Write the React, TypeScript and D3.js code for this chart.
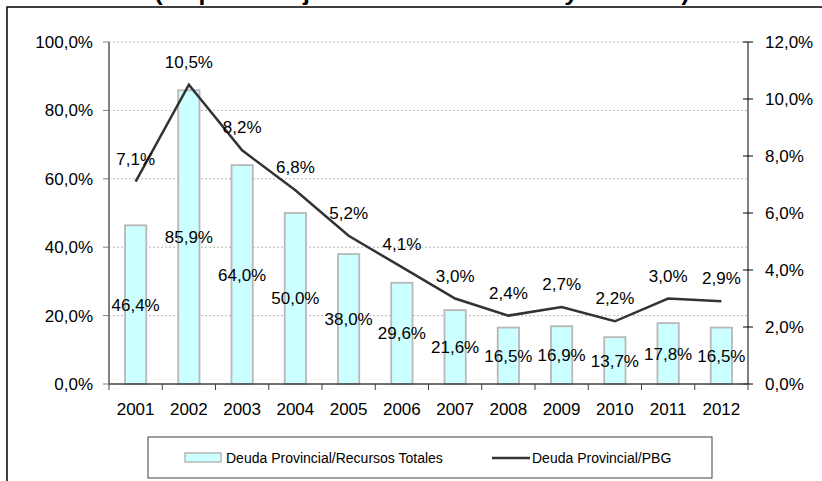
import React from "react";
import { scaleBand, scaleLinear, line } from "d3";

// data
const years = ["2001", "2002", "2003", "2004", "2005", "2006", "2007", "2008", "2009", "2010", "2011", "2012"];
const deudaRecursos = [46.4, 85.9, 64.0, 50.0, 38.0, 29.6, 21.6, 16.5, 16.9, 13.7, 17.8, 16.5];
const deudaPBG = [7.1, 10.5, 8.2, 6.8, 5.2, 4.1, 3.0, 2.4, 2.7, 2.2, 3.0, 2.9];
const leftTicks = [0, 20, 40, 60, 80, 100];
const rightTicks = [0, 2, 4, 6, 8, 10, 12];

const W = 822;
const H = 481;
const plot = { left: 109, right: 748, top: 42, bottom: 384 };
const font = "'Liberation Sans', Arial, sans-serif";

const fmt = (v: number) => v.toFixed(1).replace(".", ",") + "%";

export default function App() {
  const x = scaleBand<string>().domain(years).range([plot.left, plot.right]).padding(0);
  const bw = x.bandwidth();
  const yL = scaleLinear().domain([0, 100]).range([plot.bottom, plot.top]);
  const yR = scaleLinear().domain([0, 12]).range([plot.bottom, plot.top]);
  const cx = (y: string) => (x(y) ?? 0) + bw / 2;

  const pathD = line<number>()
    .x((_, i) => cx(years[i]))
    .y((d) => yR(d))(deudaPBG);

  return (
    <svg
      width={W}
      height={H}
      style={{ position: "absolute", left: 0, top: 0, background: "#fff", fontFamily: font }}
    >
      {/* cut-off title, only its lower edge shows */}
      <text x={422} y={0} textAnchor="middle" fontSize={22} fontWeight="bold" fill="#000"
        textLength={535} lengthAdjust="spacingAndGlyphs">
        (en porcentaje de recursos totales y del PBG)
      </text>

      {/* chart frame, runs off the page */}
      <rect x={7} y={7} width={W + 20} height={H + 20} fill="none" stroke="#000" strokeWidth={1.5} />

      {/* gridlines */}
      {leftTicks.filter((t) => t > 0).map((t) => (
        <line key={"g" + t} x1={plot.left} x2={plot.right} y1={yL(t)} y2={yL(t)}
          stroke="#b8b8b8" strokeWidth={1} strokeDasharray="2,2" />
      ))}

      {/* bars */}
      {deudaRecursos.map((v, i) => (
        <rect key={"b" + i} x={cx(years[i]) - bw * 0.2} y={yL(v)} width={bw * 0.4} height={plot.bottom - yL(v)}
          fill="#ccffff" stroke="#b8b8b8" strokeWidth={1.8} />
      ))}

      {/* left axis */}
      <line x1={plot.left} x2={plot.left} y1={plot.top} y2={plot.bottom} stroke="#808080" strokeWidth={2} />
      {leftTicks.map((t) => (
        <g key={"l" + t}>
          <line x1={plot.left - 6} x2={plot.left} y1={yL(t)} y2={yL(t)} stroke="#808080" strokeWidth={1} />
          <text x={93} y={yL(t)} dy="0.35em" textAnchor="end" fontSize={17} fill="#000">{fmt(t)}</text>
        </g>
      ))}

      {/* right axis */}
      <line x1={plot.right} x2={plot.right} y1={plot.top} y2={plot.bottom} stroke="#000" strokeWidth={1} />
      {rightTicks.map((t) => (
        <g key={"r" + t}>
          <line x1={plot.right - 5} x2={plot.right + 5} y1={yR(t)} y2={yR(t)} stroke="#000" strokeWidth={1} />
          <text x={765} y={yR(t)} dy="0.35em" textAnchor="start" fontSize={17} fill="#000">{fmt(t)}</text>
        </g>
      ))}

      {/* x axis */}
      <line x1={plot.left} x2={plot.right} y1={plot.bottom} y2={plot.bottom} stroke="#404040" strokeWidth={1.5} />
      {years.map((y, i) => (
        <g key={"x" + y}>
          <line x1={x(y)} x2={x(y)} y1={plot.bottom} y2={plot.bottom + 6} stroke="#404040" strokeWidth={1} />
          {i === years.length - 1 && (
            <line x1={plot.right} x2={plot.right} y1={plot.bottom} y2={plot.bottom + 6} stroke="#404040" strokeWidth={1} />
          )}
          <text x={cx(y)} y={415} textAnchor="middle" fontSize={17} fill="#000">{y}</text>
        </g>
      ))}

      {/* line series */}
      <path d={pathD ?? ""} fill="none" stroke="#333333" strokeWidth={2.5} />

      {/* bar labels */}
      {deudaRecursos.map((v, i) => (
        <text key={"bl" + i} x={cx(years[i])} y={(yL(v) + plot.bottom) / 2} dy="0.35em"
          textAnchor="middle" fontSize={17} fill="#000">{fmt(v)}</text>
      ))}

      {/* line labels */}
      {deudaPBG.map((v, i) => (
        <text key={"ll" + i} x={cx(years[i])} y={yR(v) - 17}
          textAnchor="middle" fontSize={17} fill="#000">{fmt(v)}</text>
      ))}

      {/* legend */}
      <rect x={148} y={437} width={564} height={41} fill="#fff" stroke="#404040" strokeWidth={1} />
      <rect x={185} y={453} width={36} height={9} fill="#ccffff" stroke="#b8b8b8" strokeWidth={1.5} />
      <text x={226} y={458} dy="0.35em" fontSize={14} fill="#000">Deuda Provincial/Recursos Totales</text>
      <line x1={492} x2={530} y1={458} y2={458} stroke="#333333" strokeWidth={2.5} />
      <text x={532} y={458} dy="0.35em" fontSize={14} fill="#000">Deuda Provincial/PBG</text>
    </svg>
  );
}
